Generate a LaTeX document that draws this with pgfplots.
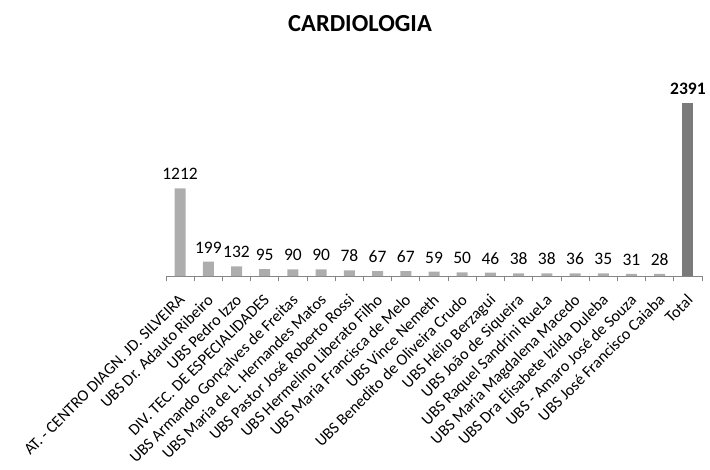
\documentclass[border=0pt]{standalone}
\usepackage{pgfplots}
\pgfplotsset{compat=1.18}
\usepackage{fontspec}
\setmainfont{Carlito}
\definecolor{barlight}{HTML}{ADADAD}
\definecolor{bardark}{HTML}{7A7A7A}
\definecolor{axisgray}{HTML}{868686}
\begin{document}
\begin{tikzpicture}
\useasboundingbox (0,0) rectangle (710pt,469pt);
\begin{axis}[
  at={(166pt,193pt)}, anchor=south west,
  scale only axis, width=536pt, height=202.6pt,
  xmin=-0.5, xmax=18.5, ymin=0, ymax=2800,
  axis x line*=bottom, axis y line=none,
  x axis line style={axisgray, line width=0.8pt, -},
  ybar, bar width=11pt, bar shift=0pt,
  xtick={0,...,18},
  major tick length=0pt,
  minor xtick={-0.5,0.5,...,18.5},
  minor tick length=5pt,
  tick style={axisgray, line width=0.8pt},
  xtick align=outside,
  xticklabels={AT. - CENTRO DIAGN. JD. SILVEIRA, UBS Dr. Adauto Ribeiro, UBS Pedro Izzo, DIV. TEC. DE ESPECIALIDADES, UBS Armando Gonçalves de Freitas, UBS Maria de L. Hernandes Matos, UBS Pastor José Roberto Rossi, UBS Hermelino Liberato Filho, UBS Maria Francisca de Melo, UBS Vince Nemeth, UBS Benedito de Oliveira Crudo, UBS Hélio Berzagui, UBS João de Siqueira, UBS Raquel Sandrini RueLa, UBS Maria Magdalena Macedo, UBS Dra Elisabete Izilda Duleba, UBS - Amaro José de Souza, UBS José Francisco Caiaba, Total},
  xticklabel style={yshift=-17pt, xshift=-2pt, rotate=45, anchor=north east, font=\fontsize{16.2}{18}\selectfont, inner sep=0pt},
  /pgf/number format/assume math mode=true,
  /pgf/number format/1000 sep={},
  nodes near coords,
  nodes near coords style={font=\fontsize{17.5}{19}\selectfont, black, yshift=5pt},
  title={\textbf{CARDIOLOGIA}},
  title style={at={(0.362,1.214)}, anchor=center, font=\fontsize{24.5}{28}\selectfont},
  clip=false,
]
\addplot[fill=barlight, draw=none] coordinates {
(0,1212) (1,199) (2,132) (3,95) (4,90) (5,90) (6,78) (7,67) (8,67) (9,59) (10,50) (11,46) (12,38) (13,38) (14,36) (15,35) (16,31) (17,28)};
\addplot[fill=bardark, draw=none, nodes near coords style={font=\fontsize{17.5}{19}\selectfont\bfseries}] coordinates {(18,2391)};
\end{axis}
\end{tikzpicture}
\end{document}
